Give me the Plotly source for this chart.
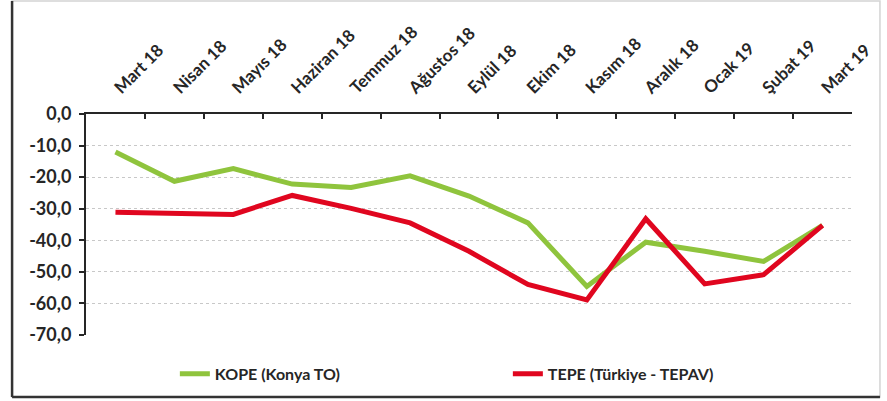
import plotly.graph_objects as go

months = ["Mart 18", "Nisan 18", "Mayıs 18", "Haziran 18", "Temmuz 18", "Ağustos 18",
          "Eylül 18", "Ekim 18", "Kasım 18", "Aralık 18", "Ocak 19", "Şubat 19", "Mart 19"]
kope = [-12.0, -21.3, -17.3, -22.2, -23.3, -19.6, -26.0, -34.5, -54.6, -40.6, -43.5, -46.7, -35.3]
tepe = [-31.1, -31.3, -31.8, -25.8, -29.9, -34.5, -43.5, -54.0, -58.9, -33.2, -53.8, -50.9, -35.3]
ytick_vals = [0, -10, -20, -30, -40, -50, -60, -70]
ytick_text = ["0,0", "-10,0", "-20,0", "-30,0", "-40,0", "-50,0", "-60,0", "-70,0"]

FONT = "Lato"
TXT = "#262626"

fig = go.Figure()
fig.add_trace(go.Scatter(x=months, y=kope, mode="lines", name="KOPE (Konya TO)",
                         line=dict(color="#8FC43D", width=5)))
fig.add_trace(go.Scatter(x=months, y=tepe, mode="lines", name="TEPE (Türkiye - TEPAV)",
                         line=dict(color="#E0061F", width=5)))

fig.update_layout(
    width=887, height=401,
    margin=dict(l=86, r=35, t=114, b=66, autoexpand=False),
    paper_bgcolor="white", plot_bgcolor="white",
    font=dict(family=FONT, color=TXT, size=17, weight="bold"),
    showlegend=True,
    legend=dict(orientation="h", x=0.116, y=-0.099, xanchor="left", yanchor="top",
                entrywidth=288, entrywidthmode="pixels",
                font=dict(family=FONT, size=16, color=TXT, weight="bold"),
                bgcolor="rgba(0,0,0,0)"),
    xaxis=dict(side="top", type="category", tickson="boundaries", ticks="inside",
               ticklen=5, tickwidth=2, tickcolor=TXT, automargin=False,
               showline=True, linecolor=TXT, linewidth=2,
               showgrid=False, tickangle=-45, ticklabelstandoff=8,
               tickfont=dict(family=FONT, size=17, color=TXT, weight="bold"),
               range=[-0.5, 12.5]),
    yaxis=dict(range=[-70, 0], tickvals=ytick_vals, ticktext=ytick_text,
               ticks="outside", ticklen=5, tickwidth=2, tickcolor=TXT, automargin=False,
               showline=True, linecolor=TXT, linewidth=2, ticklabelstandoff=4,
               showgrid=True, gridcolor="#C8C8C8", gridwidth=1, griddash="dot",
               zeroline=False,
               tickfont=dict(family=FONT, size=18, color=TXT, weight="bold")),
)

# outer chart frame
fig.add_shape(type="rect", xref="paper", yref="paper",
              x0=-0.0965, x1=1.0365, y0=-0.2805, y1=1.511,
              line=dict(color="#D4D4D4", width=1.5), layer="below")
fig.add_shape(type="line", xref="paper", yref="paper",
              x0=-0.0965, x1=-0.0965, y0=-0.2805, y1=1.511,
              line=dict(color="#333333", width=2.5))
fig.add_shape(type="line", xref="paper", yref="paper",
              x0=-0.0965, x1=1.0365, y0=-0.2805, y1=-0.2805,
              line=dict(color="#333333", width=2.5))

fig.write_html("out.html", config={"displayModeBar": False},
               post_script="document.body.style.margin='0';")
